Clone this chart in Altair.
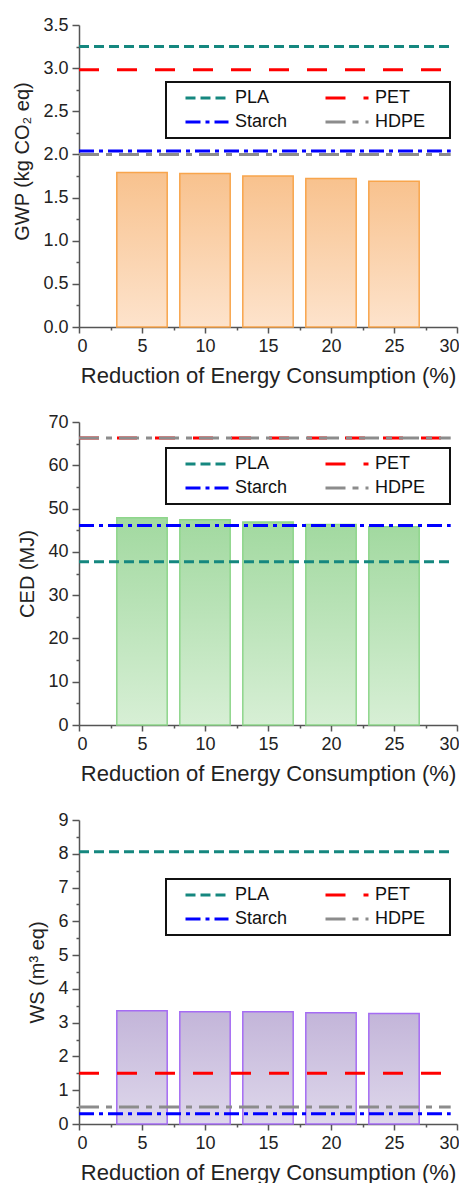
import altair as alt
import pandas as pd

# ---- data ----
reduction = [5, 10, 15, 20, 25]
gwp = [1.79, 1.78, 1.75, 1.72, 1.69]
ced = [47.9, 47.4, 46.9, 46.3, 45.8]
ws = [3.35, 3.32, 3.32, 3.29, 3.27]

materials = ["PLA", "PET", "Starch", "HDPE"]
gwp_ref = [3.25, 2.98, 2.04, 2.00]
ced_ref = [37.7, 66.3, 46.1, 66.3]
ws_ref = [8.06, 1.50, 0.30, 0.50]

x_ticks = [0, 2.5, 5, 7.5, 10, 12.5, 15, 17.5, 20, 22.5, 25, 27.5, 30]
gwp_ticks = [0, 0.25, 0.5, 0.75, 1.0, 1.25, 1.5, 1.75, 2.0, 2.25, 2.5, 2.75, 3.0, 3.25, 3.5]
ced_ticks = [0, 5, 10, 15, 20, 25, 30, 35, 40, 45, 50, 55, 60, 65, 70]
ws_ticks = [0, 0.5, 1, 1.5, 2, 2.5, 3, 3.5, 4, 4.5, 5, 5.5, 6, 6.5, 7, 7.5, 8, 8.5, 9]

FONT = "Liberation Sans"
mat_colors = ["#15877f", "#ff0000", "#0000ff", "#8c8c8c"]
mat_dashes = [[10, 5], [20, 18], [15, 5, 4, 5], [20, 7, 6, 7]]

W = 378


def minor_test(step):
    return f"abs(datum.value/{step} - round(datum.value/{step})) > 0.001"


def make_panel(values, refs, ytitle, ymax, yticks, ystep, fmt, top_c, bot_c, stroke_c,
               height, legend_y, title_y=None):
    bars_df = pd.DataFrame({"reduction": reduction, "value": values})
    ref_df = pd.DataFrame({"material": materials, "value": refs})

    xaxis = alt.Axis(
        values=x_ticks,
        title="Reduction of Energy Consumption (%)",
        labelExpr=f"{minor_test(5)} ? '' : format(datum.value, 'd')",
        labelOverlap=False,
        labelFlush=True,
        labelFlushOffset=2,
        tickSize={"condition": {"test": minor_test(5), "value": 3}, "value": 6},
        labelPadding=4,
        titlePadding=10,
    )
    yargs = dict(
        values=yticks,
        title=ytitle,
        labelOverlap=False,
        labelExpr=f"{minor_test(ystep)} ? '' : format(datum.value, '{fmt}')",
        tickSize={"condition": {"test": minor_test(ystep), "value": 3}, "value": 7},
        labelPadding=4,
        titlePadding=10,
    )
    if title_y is not None:
        yargs["titleY"] = title_y
    yaxis = alt.Axis(**yargs)
    xscale = alt.Scale(domain=[0, 30], nice=False)
    yscale = alt.Scale(domain=[0, ymax], nice=False)

    grad = alt.Gradient(
        gradient="linear",
        stops=[alt.GradientStop(color=top_c, offset=0), alt.GradientStop(color=bot_c, offset=1)],
        x1=0, x2=0, y1=0, y2=1,
    )
    bars = (
        alt.Chart(bars_df)
        .transform_calculate(x0="datum.reduction - 2", x1="datum.reduction + 2")
        .mark_bar(fill=grad, stroke=stroke_c, strokeWidth=1.5)
        .encode(
            x=alt.X("x0:Q", scale=xscale, axis=xaxis),
            x2="x1:Q",
            y=alt.Y("value:Q", scale=yscale, axis=yaxis),
            y2=alt.datum(0),
        )
    )

    legend = alt.Legend(
        title="x",
        titleOrient="right",
        titleOpacity=0,
        titleFontSize=10,
        titlePadding=13,
        orient="none",
        direction="horizontal",
        legendX=87,
        legendY=legend_y,
        columns=2,
        columnPadding=24,
        rowPadding=4,
        clipHeight=20,
        symbolSize=1849,
        symbolStrokeWidth=3,
        symbolType="stroke",
        labelOffset=5,
        padding=6,
        symbolOffset=12,
    )
    rules = (
        alt.Chart(ref_df)
        .mark_rule(strokeWidth=3)
        .encode(
            y=alt.Y("value:Q", scale=yscale, axis=yaxis),
            x=alt.datum(0, scale=xscale, axis=xaxis),
            x2=alt.datum(29.5),
            color=alt.Color("material:N", scale=alt.Scale(domain=materials, range=mat_colors), legend=legend),
            strokeDash=alt.StrokeDash("material:N", scale=alt.Scale(domain=materials, range=mat_dashes), legend=legend),
        )
    )
    return alt.layer(bars, rules).properties(width=W, height=height)


p1 = make_panel(gwp, gwp_ref, "GWP (kg CO₂ eq)", 3.5, gwp_ticks, 0.5, ".1f",
                "#f8c28e", "#fde3cc", "#f8a54c", 302, 57, title_y=136)
p2 = make_panel(ced, ced_ref, "CED (MJ)", 70, ced_ticks, 10, "d",
                "#a2d9a0", "#d7efd5", "#8ed68b", 303, 26)
p3 = make_panel(ws, ws_ref, "WS (m³ eq)", 9, ws_ticks, 1, "d",
                "#c3b5d9", "#ded7eb", "#a56cf3", 304, 59)

chart = (
    alt.vconcat(p1, p2, p3, spacing=27)
    .resolve_scale(y="independent", color="independent", strokeDash="independent")
    .properties(padding={"left": 4, "top": 8, "right": 0, "bottom": 0})
    .configure_view(stroke=None)
    .configure_axis(
        grid=False,
        labelOverlap=False,
        labelFont=FONT,
        labelFontSize=18,
        labelColor="#222222",
        titleFont=FONT,
        titleFontWeight="normal",
        titleColor="#222222",
        domainColor="#555555",
        domainWidth=1.5,
        tickColor="#555555",
        tickWidth=1.5,
    )
    .configure_axisX(titleFontSize=22)
    .configure_axisY(titleFontSize=20)
    .configure_legend(
        labelFont=FONT,
        labelFontSize=18,
        labelColor="#111111",
        strokeColor="#111111",
        strokeWidth=2,
        fillColor="white",
    )
)

chart.save("out.html", embed_options={"renderer": "svg", "actions": False})
